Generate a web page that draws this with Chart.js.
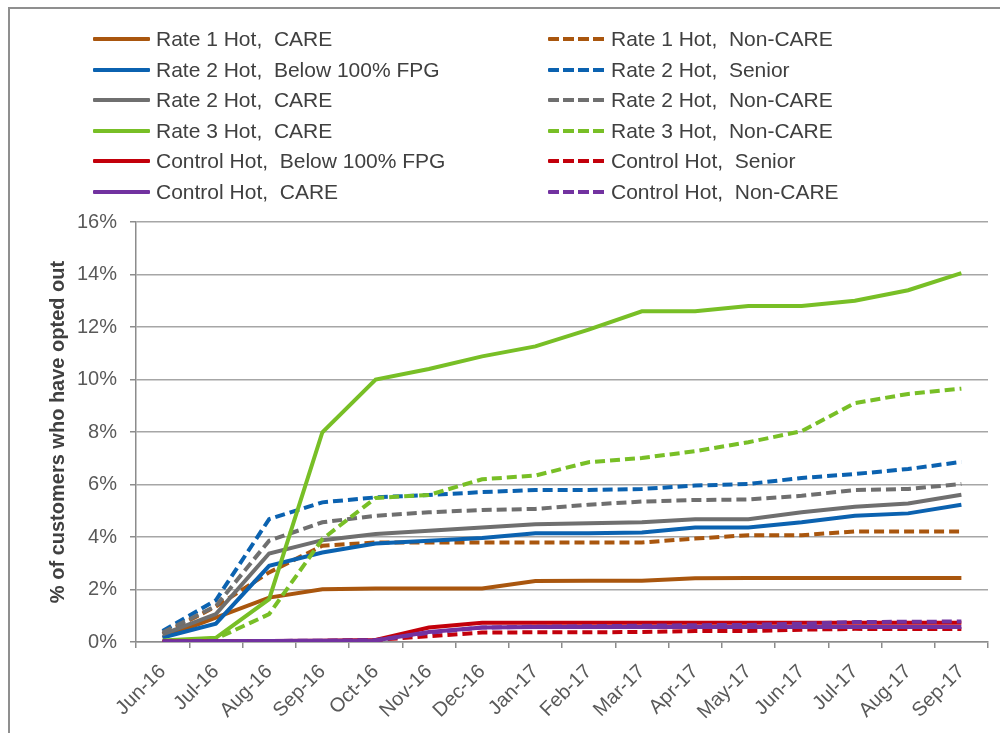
<!DOCTYPE html>
<html>
<head>
<meta charset="utf-8">
<script src="https://cdn.jsdelivr.net/npm/chart.js@4.4.1/dist/chart.umd.min.js"></script>
<style>
  html, body { margin: 0; padding: 0; background: #fff; overflow: hidden; }
  #wrap { position: relative; width: 1000px; height: 733px; }
  #frame { position: absolute; left: 8px; top: 7px; width: 1100px; height: 900px; border: 2px solid #8f8f8f; box-sizing: border-box; }
  #chart { position: absolute; left: 0; top: 0; }
  .lg-item { position: absolute; height: 24px; display: flex; align-items: center; font: 21px "Liberation Sans", Arial, sans-serif; color: #404040; white-space: pre; }
  .lg-line { width: 57px; height: 4px; margin-right: 6px; border-radius: 1px; }
</style>
</head>
<body>
<div id="wrap">
  <div id="frame"></div>
  <canvas id="chart" width="1000" height="733"></canvas>
  <div id="legend"></div>
</div>
<script>
// months on the x axis
const months = ["Jun-16", "Jul-16", "Aug-16", "Sep-16", "Oct-16", "Nov-16", "Dec-16", "Jan-17",
  "Feb-17", "Mar-17", "Apr-17", "May-17", "Jun-17", "Jul-17", "Aug-17", "Sep-17"];

// y ticks (percent)
const yTicks = [0, 2, 4, 6, 8, 10, 12, 14, 16];

// % of customers who have opted out, per group
const rate1Care     = [0.17, 0.93, 1.69, 2.01, 2.04, 2.04, 2.04, 2.32, 2.33, 2.33, 2.43, 2.44, 2.44, 2.44, 2.44, 2.44];
const rate1NonCare  = [0.30, 1.35, 2.65, 3.67, 3.79, 3.79, 3.79, 3.79, 3.79, 3.79, 3.94, 4.07, 4.07, 4.21, 4.21, 4.21];
const rate2Below    = [0.17, 0.70, 2.90, 3.41, 3.75, 3.86, 3.96, 4.14, 4.14, 4.17, 4.36, 4.36, 4.56, 4.81, 4.90, 5.23];
const rate2Senior   = [0.42, 1.59, 4.68, 5.32, 5.51, 5.60, 5.71, 5.79, 5.79, 5.83, 5.96, 6.02, 6.25, 6.40, 6.59, 6.86];
const rate2Care     = [0.29, 1.06, 3.37, 3.88, 4.11, 4.24, 4.36, 4.49, 4.52, 4.56, 4.68, 4.68, 4.94, 5.15, 5.28, 5.61];
const rate2NonCare  = [0.36, 1.37, 3.86, 4.56, 4.81, 4.94, 5.03, 5.07, 5.23, 5.35, 5.41, 5.43, 5.57, 5.79, 5.83, 6.02];
const rate3Care     = [0.06, 0.16, 1.63, 7.99, 10.0, 10.4, 10.88, 11.26, 11.9, 12.6, 12.6, 12.8, 12.8, 13.0, 13.4, 14.05];
const rate3NonCare  = [0.00, 0.12, 1.06, 3.92, 5.49, 5.60, 6.20, 6.34, 6.85, 7.01, 7.27, 7.61, 8.03, 9.10, 9.45, 9.65];
const ctrlBelow     = [0.02, 0.03, 0.04, 0.05, 0.08, 0.55, 0.73, 0.73, 0.73, 0.73, 0.73, 0.73, 0.73, 0.73, 0.73, 0.73];
const ctrlSenior    = [0.01, 0.02, 0.03, 0.04, 0.08, 0.22, 0.36, 0.37, 0.37, 0.38, 0.42, 0.42, 0.47, 0.50, 0.50, 0.50];
const ctrlCare      = [0.02, 0.03, 0.04, 0.05, 0.06, 0.38, 0.55, 0.57, 0.57, 0.57, 0.57, 0.57, 0.57, 0.57, 0.57, 0.57];
const ctrlNonCare   = [0.02, 0.03, 0.04, 0.05, 0.07, 0.35, 0.55, 0.58, 0.60, 0.62, 0.64, 0.65, 0.70, 0.76, 0.77, 0.78];

const FONT = '"Liberation Sans", Arial, sans-serif';
const ORANGE = "#a9560e", BLUE = "#0b62b0", GRAY = "#6f6f6f", GREEN = "#78bf26", RED = "#c3000b", PURPLE = "#7232a0";

const series = [
  ["Rate 1 Hot,  CARE", rate1Care, ORANGE, false],
  ["Rate 1 Hot,  Non-CARE", rate1NonCare, ORANGE, true],
  ["Rate 2 Hot,  Below 100% FPG", rate2Below, BLUE, false],
  ["Rate 2 Hot,  Senior", rate2Senior, BLUE, true],
  ["Rate 2 Hot,  CARE", rate2Care, GRAY, false],
  ["Rate 2 Hot,  Non-CARE", rate2NonCare, GRAY, true],
  ["Rate 3 Hot,  CARE", rate3Care, GREEN, false],
  ["Rate 3 Hot,  Non-CARE", rate3NonCare, GREEN, true],
  ["Control Hot,  Below 100% FPG", ctrlBelow, RED, false],
  ["Control Hot,  Senior", ctrlSenior, RED, true],
  ["Control Hot,  CARE", ctrlCare, PURPLE, false],
  ["Control Hot,  Non-CARE", ctrlNonCare, PURPLE, true]
];

const datasets = series.map(([label, data, color, dashed], i) => ({
  label, data,
  borderColor: color,
  backgroundColor: color,
  borderWidth: 4,
  borderDash: dashed ? [10, 5] : [],
  pointRadius: 0,
  tension: 0,
  order: series.length - i   // later series drawn on top, like Excel
}));

new Chart(document.getElementById("chart"), {
  type: "line",
  data: { labels: months, datasets },
  options: {
    responsive: false,
    animation: false,
    layout: { padding: { top: 222, right: 12, bottom: 0, left: 0 } },
    plugins: { legend: { display: false }, tooltip: { enabled: false } },
    scales: {
      x: {
        offset: true,
        afterFit: s => { s.height = 91; },
        grid: { display: true, drawOnChartArea: false, offset: true, tickLength: 6, color: "#8c8c8c", lineWidth: 1.5 },
        border: { color: "#8c8c8c", width: 1.5 },
        ticks: { color: "#595959", font: { family: FONT, size: 20 }, minRotation: 45, maxRotation: 45, padding: 12, autoSkip: false }
      },
      y: {
        min: yTicks[0], max: yTicks[yTicks.length - 1],
        afterFit: s => { s.width = 136; },
        afterBuildTicks: s => { s.ticks = yTicks.map(v => ({ value: v })); },
        grid: { color: "#a6a6a6", lineWidth: 1.5, tickLength: 6, tickColor: "#8c8c8c" },
        border: { color: "#8c8c8c", width: 1.5 },
        ticks: { color: "#595959", font: { family: FONT, size: 20 }, padding: 13, callback: v => v + "%" },
        title: {
          display: true, text: "% of customers who have opted out",
          color: "#404040", font: { family: FONT, size: 20, weight: "bold" },
          padding: { top: 46, bottom: 0 }
        }
      }
    }
  }
});

// legend: two columns, solid on the left, dashed on the right
const legend = document.getElementById("legend");
series.forEach(([label, , color, dashed], i) => {
  const col = i % 2, row = Math.floor(i / 2);
  const item = document.createElement("div");
  item.className = "lg-item";
  item.style.left = (col ? 548 : 93) + "px";
  item.style.top = (39 + row * 30.6 - 12) + "px";
  const line = document.createElement("span");
  line.className = "lg-line";
  line.style.background = dashed
    ? `repeating-linear-gradient(90deg, ${color} 0 11px, transparent 11px 15px)`
    : color;
  const txt = document.createElement("span");
  txt.textContent = label;
  item.appendChild(line);
  item.appendChild(txt);
  legend.appendChild(item);
});
</script>
</body>
</html>
